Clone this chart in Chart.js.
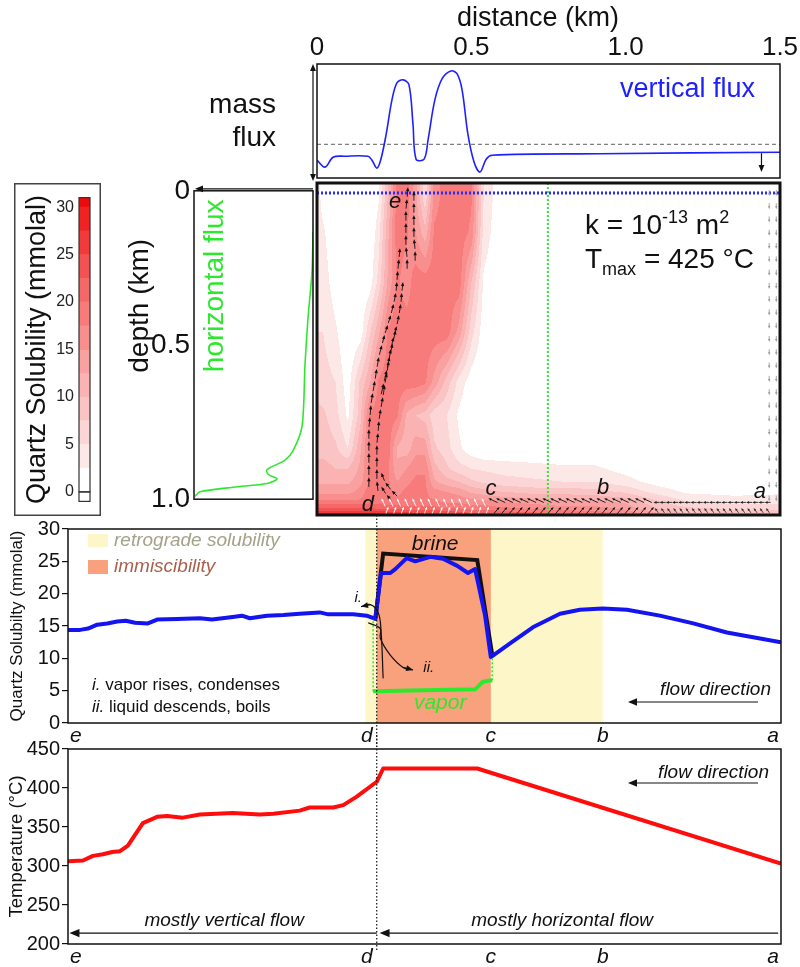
<!DOCTYPE html>
<html lang="en">
<head>
<meta charset="UTF-8">
<title>Quartz solubility along the flow path</title>
<script src="https://cdn.jsdelivr.net/npm/chart.js@4.4.1/dist/chart.umd.min.js"></script>
<style>
  body { margin: 0; background: #fff; }
  #page { position: relative; width: 800px; height: 967px; overflow: hidden; background: #fff; }
  #page canvas { position: absolute; }
</style>
</head>
<body>
<div id="page">
  <canvas id="massFlux" width="800" height="182" style="left:0;top:0"></canvas>
  <canvas id="colorbar" width="87" height="333" style="left:14px;top:183px"></canvas>
  <canvas id="horizFlux" width="207" height="350" style="left:110px;top:170px"></canvas>
  <canvas id="field" width="473" height="342" style="left:312px;top:178px"></canvas>
  <canvas id="solubility" width="800" height="232" style="left:0;top:515px"></canvas>
  <canvas id="temperature" width="800" height="232" style="left:0;top:735px"></canvas>
</div>

<script>
// ---------- top panel: vertical mass flux along the surface ----------
const distanceTicks = [0, 0.5, 1.0, 1.5];
const distanceKm   = [0, 0.026, 0.052, 0.09, 0.165, 0.178, 0.194, 0.207, 0.224, 0.243, 0.259, 0.279, 0.298, 0.311, 0.321, 0.347, 0.36, 0.382, 0.405, 0.434, 0.454, 0.47, 0.489, 0.509, 0.528, 0.548, 0.567, 0.917, 1.5];
const verticalFlux = [-1.6, -2.3, -1.3, -1.2, -1.2, -1.6, -2.4, -1.5, 1.0, 4.5, 6.2, 6.5, 6.0, 2.0, -1.5, -1.5, 0.5, 4.5, 6.6, 7.4, 7.1, 5.5, 1.0, -1.8, -2.8, -1.5, -1.1, -0.95, -0.8];
const fluxMarkerKm = 1.44;

// ---------- left panel: horizontal flux with depth ----------
const depthTicks = [0, 0.5, 1.0];
const fluxDepth      = [0.133, 0.262, 0.413, 0.563, 0.765, 0.843, 0.873, 0.904, 0.919, 0.934, 0.949, 0.961, 0.976, 0.991];
const horizontalFlux = [0, 0.1, 0.5, 0.8, 1.1, 2.0, 2.8, 4.6, 4.5, 3.6, 4.6, 8.0, 11.3, 11.8];

// ---------- colour scale (mmolal) ----------
const solubilityLevels = [0, 2.5, 5, 7.5, 10, 12.5, 15, 17.5, 20, 22.5, 25, 27.5, 30];
const levelColors = ['#ffffff', '#fde8e8', '#fcd6d6', '#fbc4c4', '#fab2b2', '#f9a0a0', '#f88e8e', '#f77b7b', '#f56868', '#f45252', '#f23a3a', '#f12222', '#ee0a0a'];
const colorbarTicks = [0, 5, 10, 15, 20, 25, 30];

// ---------- quartz solubility field, rows by depth (km), columns by distance (km) ----------
const fieldKm    = [0, 0.02, 0.06, 0.1, 0.14, 0.17, 0.2, 0.23, 0.26, 0.29, 0.32, 0.35, 0.38, 0.42, 0.46, 0.5, 0.54, 0.6, 0.7, 0.8, 0.9, 1.0, 1.1, 1.2, 1.35, 1.5];
const fieldDepth = [0, 0.03, 0.15, 0.3, 0.45, 0.6, 0.7, 0.8, 0.86, 0.9, 0.93, 0.96, 0.98, 1.0];
const fieldRows = [
  [4, 1, 0, 0, 0, 0, 2, 10, 19, 19, 14, 6, 16, 19, 19, 18, 5, 0, 0, 0, 0, 0, 0, 0, 0, 0],
  [4, 1, 0, 0, 0, 0, 2, 10, 19, 19, 13, 5, 16, 19, 19, 18, 5, 0, 0, 0, 0, 0, 0, 0, 0, 0],
  [4, 3, 0, 0, 0, 0, 4, 12, 19, 18, 15, 11, 18, 19, 19, 17, 4, 0, 0, 0, 0, 0, 0, 0, 0, 0],
  [5, 4, 1, 0, 0, 1, 6, 13, 18, 16, 19, 19, 19, 19, 19, 10, 2, 0, 0, 0, 0, 0, 0, 0, 0, 0],
  [5, 5, 3, 0, 1, 7, 12, 18, 19, 19, 19, 19, 19, 19, 14, 6, 1, 0, 0, 0, 0, 0, 0, 0, 0, 0],
  [7, 6, 5, 1, 8, 12, 18, 19, 19, 19, 19, 18, 14, 9, 4, 1, 0, 0, 0, 0, 0, 0, 0, 0, 0, 0],
  [8, 8, 6, 2, 9, 18, 19, 19, 18, 12, 10, 9, 6, 5, 2, 0, 0, 0, 0, 0, 0, 0, 0, 0, 0, 0],
  [9, 9, 8, 5, 12, 18, 19, 19, 12, 11, 14, 14, 8, 6, 3, 1, 0, 0, 0, 0, 0, 0, 0, 0, 0, 0],
  [11, 11, 10, 10, 13, 18, 19, 18, 13, 15, 17, 17, 11, 8, 6, 5, 4.5, 4, 3.5, 3, 3, 1.5, 0, 0, 0, 0],
  [12, 12, 12, 12, 14, 18, 19, 18, 15, 17, 18, 18, 13, 11, 10, 8, 7, 6, 5.5, 5, 5, 3.5, 1.5, 0.5, 0, 0],
  [14, 14, 14, 14, 16, 19, 19, 18, 17, 18, 18, 18, 16, 15, 14, 12, 11, 10, 9, 9, 8.5, 7, 4, 2, 1.5, 2],
  [18, 18, 18, 18, 18, 19, 19, 18, 18, 18, 18, 18, 18, 17, 17, 16, 16, 15, 14, 13, 13, 12, 8, 5, 4, 4],
  [23, 23, 23, 23, 23, 23, 22, 22, 22, 21, 21, 21, 21, 20, 20, 19, 19, 18, 17, 16, 16, 14, 10, 8, 7, 7],
  [29, 29, 29, 29, 29, 29, 29, 28, 28, 28, 27, 27, 27, 26, 25, 24, 24, 23, 22, 21, 20, 18, 14, 10, 9, 9]
];
const surfaceDepth = 0.03;   // blue dotted line where vertical flux is sampled
const profileKm = 0.748;     // green dotted line where horizontal flux is sampled

const pathLabels = ['e', 'd', 'c', 'b', 'a'];
const labelKm    = [0.253, 0.165, 0.564, 0.927, 1.435];
const labelDepth = [0.057, 0.97, 0.922, 0.919, 0.93];

// flow vectors: streamlines as [km, depth] nodes, plus rows of single vectors near the base
const streamlines = [
  [[0.292, 0.262], [0.292, 0.226], [0.288, 0.190], [0.288, 0.154], [0.288, 0.117], [0.288, 0.081], [0.292, 0.045], [0.295, 0.009]],
  [[0.318, 0.238], [0.318, 0.202], [0.314, 0.166], [0.314, 0.130], [0.314, 0.093], [0.314, 0.057], [0.314, 0.021]],
  [[0.168, 0.919], [0.168, 0.883], [0.168, 0.846], [0.168, 0.810], [0.168, 0.774], [0.168, 0.738], [0.172, 0.702], [0.175, 0.666], [0.181, 0.630], [0.188, 0.593], [0.194, 0.557], [0.201, 0.521], [0.211, 0.485], [0.220, 0.455], [0.230, 0.425], [0.240, 0.395], [0.249, 0.361], [0.256, 0.328], [0.259, 0.295], [0.262, 0.262], [0.266, 0.226], [0.269, 0.193]],
  [[0.198, 0.931], [0.194, 0.895], [0.194, 0.858], [0.194, 0.822], [0.194, 0.786], [0.198, 0.750], [0.201, 0.714], [0.207, 0.678], [0.214, 0.642], [0.220, 0.605], [0.227, 0.569], [0.233, 0.533], [0.240, 0.497], [0.249, 0.461], [0.259, 0.428], [0.266, 0.395], [0.272, 0.361], [0.275, 0.328], [0.279, 0.295]],
  [[0.207, 0.640], [0.217, 0.600], [0.227, 0.560], [0.236, 0.520], [0.246, 0.480], [0.256, 0.440]],
  [[0.262, 0.945], [0.240, 0.925], [0.220, 0.900], [0.207, 0.870]],
  [[0.243, 0.958], [0.224, 0.938], [0.207, 0.912]]
];
const baseWhiteKm = [0.215, 0.24, 0.265, 0.29, 0.315, 0.34, 0.365, 0.39, 0.415, 0.44, 0.465, 0.49, 0.515, 0.54];
const baseBlackKm = [0.57, 0.595, 0.62, 0.645, 0.67, 0.695, 0.72, 0.745, 0.77, 0.795, 0.82, 0.845, 0.87, 0.895, 0.92, 0.945, 0.97, 0.995, 1.02, 1.045, 1.07];
const baseRightKm = [1.1, 1.12, 1.14, 1.16, 1.18, 1.2, 1.22, 1.24, 1.26, 1.28, 1.3, 1.32, 1.34, 1.36, 1.38, 1.4, 1.42, 1.44, 1.46];
const baseRowDepth = [0.962, 0.986];
const edgeKm = [1.465, 1.488];
const edgeDepth = [0.03, 0.07, 0.11, 0.15, 0.19, 0.23, 0.27, 0.31, 0.35, 0.39, 0.43, 0.47, 0.51, 0.55, 0.59, 0.63, 0.67, 0.71, 0.75, 0.79, 0.83, 0.87, 0.91, 0.95];

// ---------- profiles along the flow path e -> a ----------
const pathTicks = [0, 43.3, 59.3, 75, 100];
const solPathPos = [0, 1.7, 2.8, 4.1, 5.5, 6.9, 8.1, 9.4, 11.2, 12.5, 15.3, 18.5, 20.2, 23.1, 24.4, 25.5, 27.9, 30.2, 32.5, 35.3, 36.5, 40.0, 41.9, 43.1, 43.9, 45.2, 45.9, 47.5, 48.7, 50.8, 52.6, 54.6, 56.1, 57.1, 58.5, 59.3, 62.0, 65.2, 69.0, 71.8, 75.0, 78.4, 83.0, 87.7, 92.4, 100];
const solubility = [14.4, 14.4, 14.6, 15.2, 15.4, 15.7, 15.8, 15.5, 15.4, 16.0, 16.1, 16.2, 16.0, 16.4, 16.6, 16.2, 16.6, 16.7, 16.9, 17.1, 16.8, 16.8, 16.6, 16.1, 23.2, 23.2, 23.8, 25.5, 25.0, 25.7, 25.4, 24.3, 23.2, 23.8, 16.6, 10.2, 12.3, 14.8, 16.9, 17.5, 17.7, 17.5, 16.6, 15.4, 14.0, 12.5];
const brinePos = [43.1, 44.2, 57.4, 59.5];
const brine    = [16.1, 26.2, 25.2, 10.5];
const vaporPos = [42.8, 57.1, 58.2, 59.5];
const vapor    = [4.9, 5.2, 6.4, 6.6];
const vaporTiePos  = [42.8, 59.5];
const vaporTieLow  = [4.9, 6.6];
const vaporTieHigh = [16.1, 10.2];
const retrogradeSpan = [41.7, 75];
const immiscibleSpan = [43.3, 59.3];
const condensePos = [44.2, 43.9, 43.5, 42.4, 41.1];
const condenseVal = [6.9, 14.3, 17.1, 18.3, 18.0];
const boilPos = [42.1, 43.8, 43.8, 45.2, 47.0, 48.4];
const boilVal = [15.5, 14.6, 13.1, 10.5, 8.6, 8.2];

const tempPos = [0, 2.1, 3.5, 4.9, 6.2, 7.3, 8.4, 10.5, 12.5, 13.9, 16.1, 18.5, 23.1, 26.9, 28.8, 32.5, 33.9, 37.2, 38.6, 40.5, 43.3, 44.2, 57.4, 100];
const temperature = [306, 307, 313, 315, 318, 319, 326, 355, 363, 364, 362, 366, 368, 366, 367, 371, 375, 375, 378, 389, 408, 425, 425, 303];
const verticalFlowSpan = [43.3, 0.2];
const horizontalFlowSpan = [99.6, 43.7];
const flowSpanLevel = 214;

// ---------- drawing helpers ----------
const FONT = '"Liberation Sans", Arial, Helvetica, sans-serif';
Chart.defaults.font.family = FONT;
Chart.defaults.color = '#111';
Chart.defaults.animation = false;
Chart.defaults.responsive = false;
Chart.defaults.plugins.legend.display = false;
Chart.defaults.plugins.tooltip.enabled = false;
Chart.defaults.elements.point.radius = 0;

const pts = (xs, ys) => xs.map((x, i) => ({ x: x, y: ys[i] }));
const fnt = (size, style) => (style ? style + ' ' : '') + size + 'px ' + FONT;

function text(ctx, str, x, y, size, opt) {
  opt = opt || {};
  ctx.save();
  ctx.font = fnt(size, opt.style);
  ctx.fillStyle = opt.color || '#111';
  ctx.textAlign = opt.align || 'left';
  ctx.textBaseline = opt.baseline || 'middle';
  if (opt.rotate) {
    ctx.translate(x, y);
    ctx.rotate(opt.rotate);
    ctx.fillText(str, 0, 0);
  } else {
    ctx.fillText(str, x, y);
  }
  ctx.restore();
}

// runs of differently styled text on one baseline: [str, size, dy, style]
function richText(ctx, x, y, parts, color) {
  ctx.save();
  ctx.fillStyle = color || '#111';
  ctx.textBaseline = 'alphabetic';
  let cx = x;
  parts.forEach(p => {
    ctx.font = fnt(p[1], p[3]);
    ctx.fillText(p[0], cx, y + p[2]);
    cx += ctx.measureText(p[0]).width;
  });
  ctx.restore();
}

function arrow(ctx, x1, y1, x2, y2, head, color, width) {
  const ang = Math.atan2(y2 - y1, x2 - x1);
  ctx.save();
  ctx.strokeStyle = ctx.fillStyle = color || '#111';
  ctx.lineWidth = width || 1;
  ctx.beginPath();
  ctx.moveTo(x1, y1);
  ctx.lineTo(x2 - Math.cos(ang) * head * 0.7, y2 - Math.sin(ang) * head * 0.7);
  ctx.stroke();
  ctx.translate(x2, y2);
  ctx.rotate(ang);
  ctx.beginPath();
  ctx.moveTo(0, 0);
  ctx.lineTo(-head, -head * 0.42);
  ctx.lineTo(-head, head * 0.42);
  ctx.closePath();
  ctx.fill();
  ctx.restore();
}

function box(ctx, a, width) {
  ctx.save();
  ctx.strokeStyle = '#111';
  ctx.lineWidth = width;
  ctx.strokeRect(a.left, a.top, a.right - a.left, a.bottom - a.top);
  ctx.restore();
}

function levelIndex(v) {
  let k = 0;
  for (let i = 0; i < solubilityLevels.length; i++) if (v >= solubilityLevels[i]) k = i;
  return v < solubilityLevels[1] ? 0 : k;
}

function locate(nodes, v) {
  let i = 0;
  while (i < nodes.length - 2 && v > nodes[i + 1]) i++;
  const t = Math.min(1, Math.max(0, (v - nodes[i]) / (nodes[i + 1] - nodes[i])));
  return [i, t];
}

function sampleField(km, depth) {
  const [i, tx] = locate(fieldKm, km);
  const [j, ty] = locate(fieldDepth, depth);
  const r0 = fieldRows[j], r1 = fieldRows[j + 1];
  const upper = r0[i] + (r0[i + 1] - r0[i]) * tx;
  const lower = r1[i] + (r1[i + 1] - r1[i]) * tx;
  return upper + (lower - upper) * ty;
}

const hexRgb = h => [1, 3, 5].map(k => parseInt(h.substr(k, 2), 16));

// labels e..a under the path axes
function pathAxisLabels(ctx, a, x, y) {
  const aligns = ['left', 'right', 'center', 'center', 'right'];
  const shift = [2, -4, 0, 0, -2];
  pathLabels.forEach((lab, i) => {
    text(ctx, lab, x.getPixelForValue(pathTicks[i]) + shift[i], y, 21, { style: 'italic', align: aligns[i] });
  });
}

function dottedD(ctx, x, y1, y2) {
  ctx.save();
  ctx.strokeStyle = '#111';
  ctx.lineWidth = 1.2;
  ctx.setLineDash([1.5, 2]);
  ctx.beginPath();
  ctx.moveTo(x, y1);
  ctx.lineTo(x, y2);
  ctx.stroke();
  ctx.restore();
}

// ---------- top panel ----------
new Chart(document.getElementById('massFlux'), {
  type: 'line',
  data: {
    datasets: [
      { data: pts(distanceKm, verticalFlux), borderColor: '#2020ff', borderWidth: 1.6, tension: 0.35 },
      { data: pts([0, 1.5], [0, 0]), borderColor: '#808080', borderWidth: 1.2, borderDash: [4, 3] }
    ]
  },
  options: {
    layout: { padding: { left: 317, right: 20, top: 0, bottom: 4 } },
    scales: {
      x: {
        type: 'linear', position: 'top', min: 0, max: 1.5,
        afterBuildTicks: s => { s.ticks = distanceTicks.map(v => ({ value: v })); },
        ticks: { font: { size: 26 }, color: '#111', padding: 1, maxRotation: 0, callback: v => v === 0 ? '0' : v.toFixed(1) },
        grid: { display: false, drawTicks: false },
        border: { display: false },
        afterFit: s => { s.height = 64; }
      },
      y: { type: 'linear', display: false, min: -3.4, max: 8.1 }
    }
  },
  plugins: [{
    id: 'fluxDecor',
    afterDraw(chart) {
      const { ctx, chartArea: a, scales: { x, y } } = chart;
      box(ctx, a, 1.5);
      text(ctx, 'distance (km)', 538, 19, 27, { align: 'center' });
      const ax = a.left - 4, mid = (a.top + a.bottom) / 2;
      arrow(ctx, ax, mid, ax, a.top, 7, '#111', 1.2);
      arrow(ctx, ax, mid, ax, a.bottom + 3, 7, '#111', 1.2);
      const mx = x.getPixelForValue(fluxMarkerKm);
      arrow(ctx, mx, y.getPixelForValue(-0.9), mx, y.getPixelForValue(-2.8), 7, '#111', 1.2);
      text(ctx, 'vertical flux', a.right - 25, a.top + 26, 27, { color: '#2020ff', align: 'right' });
      text(ctx, 'mass', a.left - 41, 105, 28, { align: 'right' });
      text(ctx, 'flux', a.left - 41, 138, 28, { align: 'right' });
    }
  }]
});

// ---------- colour bar ----------
const barBounds = [-1].concat(solubilityLevels, [31]);
const barColors = ['#ffffff'].concat(levelColors);
new Chart(document.getElementById('colorbar'), {
  type: 'bar',
  data: {
    labels: ['mmolal'],
    datasets: barColors.map((c, i) => ({
      data: [[barBounds[i], barBounds[i + 1]]],
      backgroundColor: c, grouped: false, barPercentage: 1, categoryPercentage: 1, borderWidth: 0
    }))
  },
  options: {
    layout: { padding: { left: 0, right: 11, top: 12, bottom: 10 } },
    scales: {
      x: { display: false },
      y: {
        min: -1, max: 31, z: 1,
        afterBuildTicks: s => { s.ticks = colorbarTicks.map(v => ({ value: v })); },
        ticks: { font: { size: 16 }, color: '#222', padding: 5 },
        grid: { color: '#333', lineWidth: 1, drawTicks: false },
        border: { display: false },
        title: { display: true, text: 'Quartz Solubility (mmolal)', font: { size: 27 }, color: '#111', padding: { top: 7, bottom: 0 } },
        afterFit: s => { s.width = 65; }
      }
    }
  },
  plugins: [{
    id: 'barOutline',
    afterDraw(chart) {
      const { ctx, chartArea: a, scales: { y } } = chart;
      ctx.save();
      ctx.strokeStyle = '#333';
      ctx.lineWidth = 1.2;
      ctx.strokeRect(a.left, y.getPixelForValue(31), a.right - a.left, y.getPixelForValue(0) - y.getPixelForValue(31));
      ctx.strokeRect(a.left, y.getPixelForValue(0), a.right - a.left, y.getPixelForValue(-1) - y.getPixelForValue(0));
      ctx.lineWidth = 1.5;
      ctx.strokeStyle = '#444';
      ctx.strokeRect(0.75, 0.75, chart.width - 1.5, chart.height - 1.5);
      ctx.restore();
    }
  }]
});

// ---------- horizontal flux ----------
new Chart(document.getElementById('horizFlux'), {
  type: 'line',
  data: { datasets: [{ data: pts(horizontalFlux, fluxDepth), borderColor: '#2ee82e', borderWidth: 1.6, tension: 0.3 }] },
  options: {
    layout: { padding: { left: 0, right: 4, top: 13, bottom: 5 } },
    scales: {
      x: { type: 'linear', display: false, min: 0, max: 11.9, reverse: true },
      y: {
        type: 'linear', min: 0, max: 1, reverse: true,
        afterBuildTicks: s => { s.ticks = depthTicks.map(v => ({ value: v })); },
        ticks: { font: { size: 28 }, color: '#111', padding: 4, callback: v => v === 0 ? '0' : v.toFixed(1) },
        grid: { display: false, drawTicks: false },
        border: { display: false },
        afterFit: s => { s.width = 84; }
      }
    }
  },
  plugins: [{
    id: 'hfluxDecor',
    afterDraw(chart) {
      const { ctx, chartArea: a } = chart;
      box(ctx, a, 1.5);
      arrow(ctx, a.right, a.top - 2, a.left + 1, a.top - 2, 8, '#111', 1.2);
      text(ctx, 'depth (km)', a.left - 54, a.top + 115, 28, { align: 'center', rotate: -Math.PI / 2 });
      text(ctx, 'horizontal flux', a.left + 21, a.top + 95, 28, { color: '#2ee82e', align: 'center', rotate: -Math.PI / 2 });
    }
  }]
});

// ---------- solubility field ----------
const fieldPlugin = {
  id: 'solubilityField',
  beforeDatasetsDraw(chart) {
    const { ctx, chartArea: a, scales: { x, y } } = chart;
    const w = Math.round(a.right - a.left), h = Math.round(a.bottom - a.top);
    const off = document.createElement('canvas');
    off.width = w;
    off.height = h;
    const octx = off.getContext('2d');
    const img = octx.createImageData(w, h);
    const rgb = levelColors.map(hexRgb);
    const kms = [];
    for (let i = 0; i < w; i++) kms.push(x.getValueForPixel(a.left + i + 0.5));
    for (let j = 0; j < h; j++) {
      const depth = y.getValueForPixel(a.top + j + 0.5);
      for (let i = 0; i < w; i++) {
        const c = rgb[levelIndex(sampleField(kms[i], depth))];
        const k = (j * w + i) * 4;
        img.data[k] = c[0];
        img.data[k + 1] = c[1];
        img.data[k + 2] = c[2];
        img.data[k + 3] = 255;
      }
    }
    octx.putImageData(img, 0, 0);
    ctx.drawImage(off, a.left, a.top);
  },
  afterDatasetsDraw(chart) {
    const { ctx, chartArea: a, scales: { x, y } } = chart;
    const px = v => x.getPixelForValue(v), py = v => y.getPixelForValue(v);

    streamlines.forEach(line => {
      for (let i = 0; i < line.length - 1; i++) {
        const x1 = px(line[i][0]), y1 = py(line[i][1]);
        const x2 = px(line[i + 1][0]), y2 = py(line[i + 1][1]);
        arrow(ctx, x1 + (x2 - x1) * 0.1, y1 + (y2 - y1) * 0.1, x1 + (x2 - x1) * 0.9, y1 + (y2 - y1) * 0.9, 4, '#111', 0.9);
      }
    });

    const glyph = (km, depth, deg, len, color) => {
      const r = deg * Math.PI / 180, cx = px(km), cy = py(depth);
      const dx = Math.cos(r) * len / 2, dy = Math.sin(r) * len / 2;
      arrow(ctx, cx - dx, cy - dy, cx + dx, cy + dy, 3, color, 0.9);
    };
    baseWhiteKm.forEach(k => { glyph(k, baseRowDepth[0], -115, 9, '#ffffff'); glyph(k + 0.012, baseRowDepth[1], -70, 8, '#ffffff'); });
    baseBlackKm.forEach(k => { glyph(k, baseRowDepth[0] - 0.006, -155, 10, '#111'); glyph(k + 0.012, baseRowDepth[1], -50, 9, '#111'); });
    baseRightKm.forEach(k => { glyph(k, baseRowDepth[0], 180, 6, '#222'); glyph(k, baseRowDepth[1], -125, 6, '#333'); });
    edgeKm.forEach(k => edgeDepth.forEach(d => glyph(k, d, 90, 6, '#9a9a9a')));

    pathLabels.forEach((lab, i) => text(ctx, lab, px(labelKm[i]), py(labelDepth[i]), 22, { style: 'italic', align: 'center' }));

    richText(ctx, a.left + 268, a.top + 51, [['k = 10', 28, 0], ['-13', 18, -11], [' m', 28, 0], ['2', 18, -11]]);
    richText(ctx, a.left + 268, a.top + 85, [['T', 28, 0], ['max', 18, 7], [' = 425 °C', 28, 0]]);

    box(ctx, a, 3);
  }
};

new Chart(document.getElementById('field'), {
  type: 'line',
  data: {
    datasets: [
      { data: pts([0, 1.5], [surfaceDepth, surfaceDepth]), borderColor: '#2a2aff', borderWidth: 3, borderDash: [2, 2] },
      { data: pts([profileKm, profileKm], [0, 1]), borderColor: '#2ee82e', borderWidth: 2, borderDash: [2, 2] }
    ]
  },
  options: {
    layout: { padding: 5 },
    scales: {
      x: { type: 'linear', display: false, min: 0, max: 1.5 },
      y: { type: 'linear', display: false, min: 0, max: 1, reverse: true }
    }
  },
  plugins: [fieldPlugin]
});

// ---------- quartz solubility along the path ----------
new Chart(document.getElementById('solubility'), {
  type: 'line',
  data: {
    datasets: [
      { data: pts(condensePos, condenseVal), borderColor: '#111', borderWidth: 1.2, tension: 0.4 },
      { data: pts(boilPos, boilVal), borderColor: '#111', borderWidth: 1.2, tension: 0.4 },
      { data: pts([vaporTiePos[0], vaporTiePos[0]], [vaporTieLow[0], vaporTieHigh[0]]), borderColor: '#2ee82e', borderWidth: 1.5, borderDash: [2, 2] },
      { data: pts([vaporTiePos[1], vaporTiePos[1]], [vaporTieLow[1], vaporTieHigh[1]]), borderColor: '#2ee82e', borderWidth: 1.5, borderDash: [2, 2] },
      { data: pts(vaporPos, vapor), borderColor: '#2ee82e', borderWidth: 4 },
      { data: pts(solPathPos, solubility), borderColor: '#1414f0', borderWidth: 4, borderJoinStyle: 'round' },
      { data: pts(brinePos, brine), borderColor: '#111', borderWidth: 4 }
    ]
  },
  options: {
    layout: { padding: { left: 0, right: 19, top: 13, bottom: 24 } },
    scales: {
      x: { type: 'linear', display: false, min: 0, max: 100 },
      y: {
        min: 0, max: 30,
        ticks: { stepSize: 5, font: { size: 20 }, color: '#111', padding: 2 },
        grid: { drawOnChartArea: false, tickLength: 6, color: '#111', lineWidth: 1.2 },
        border: { display: false },
        title: { display: true, text: 'Quartz Solubilty (mmolal)', font: { size: 17 }, color: '#111', padding: { top: 7, bottom: 0 } },
        afterFit: s => { s.width = 68; }
      }
    }
  },
  plugins: [{
    id: 'solubilityDecor',
    beforeDatasetsDraw(chart) {
      const { ctx, chartArea: a, scales: { x } } = chart;
      ctx.save();
      ctx.fillStyle = '#fdf6c8';
      ctx.fillRect(x.getPixelForValue(retrogradeSpan[0]), a.top, x.getPixelForValue(retrogradeSpan[1]) - x.getPixelForValue(retrogradeSpan[0]), a.bottom - a.top);
      ctx.fillStyle = '#f9a07c';
      ctx.fillRect(x.getPixelForValue(immiscibleSpan[0]), a.top, x.getPixelForValue(immiscibleSpan[1]) - x.getPixelForValue(immiscibleSpan[0]), a.bottom - a.top);
      ctx.restore();
    },
    afterDraw(chart) {
      const { ctx, chartArea: a, scales: { x, y } } = chart;
      const px = v => x.getPixelForValue(v), py = v => y.getPixelForValue(v);
      box(ctx, a, 1.5);
      dottedD(ctx, px(pathTicks[1]), 0, chart.height);

      // legend
      ctx.save();
      ctx.fillStyle = '#fdf6c8';
      ctx.fillRect(a.left + 20, a.top + 5, 20, 13);
      ctx.fillStyle = '#f9a07c';
      ctx.fillRect(a.left + 20, a.top + 31, 20, 14);
      ctx.restore();
      text(ctx, 'retrograde solubility', a.left + 46, a.top + 12, 19, { style: 'italic', color: '#a3a28a' });
      text(ctx, 'immiscibility', a.left + 46, a.top + 38, 19, { style: 'italic', color: '#a8604c' });

      // arrow heads on the condensing / boiling sketches
      const head = (xs, ys, n) => arrow(ctx, px(xs[n - 2]), py(ys[n - 2]), px(xs[n - 1]), py(ys[n - 1]), 7, '#111', 1.2);
      head(condensePos, condenseVal, condensePos.length);
      head(boilPos, boilVal, boilPos.length);
      text(ctx, 'i.', px(40.7), py(19.4), 15, { style: 'italic', align: 'center' });
      text(ctx, 'ii.', px(50.6), py(8.6), 15, { style: 'italic', align: 'center' });
      text(ctx, 'brine', px(51.5), py(27.7), 21, { style: 'italic', align: 'center' });
      text(ctx, 'vapor', px(52.2), py(3.1), 21, { style: 'italic', align: 'center', color: '#2ee82e' });

      richText(ctx, a.left + 24, a.top + 161, [['i.', 17, 0, 'italic'], [' vapor rises, condenses', 17, 0]]);
      richText(ctx, a.left + 24, a.top + 183, [['ii.', 17, 0, 'italic'], [' liquid descends, boils', 17, 0]]);

      text(ctx, 'flow direction', a.right - 10, a.top + 161, 19, { style: 'italic', align: 'right' });
      arrow(ctx, a.right - 23, a.top + 173, a.right - 153, a.top + 173, 9, '#111', 1.2);

      pathAxisLabels(ctx, a, x, a.bottom + 13);
    }
  }]
});

// ---------- temperature along the path ----------
new Chart(document.getElementById('temperature'), {
  type: 'line',
  data: { datasets: [{ data: pts(tempPos, temperature), borderColor: '#ff0c0c', borderWidth: 4, borderJoinStyle: 'round' }] },
  options: {
    layout: { padding: { left: 0, right: 19, top: 14, bottom: 23 } },
    scales: {
      x: { type: 'linear', display: false, min: 0, max: 100 },
      y: {
        min: 200, max: 450,
        ticks: { stepSize: 50, font: { size: 20 }, color: '#111', padding: 2 },
        grid: { drawOnChartArea: false, tickLength: 6, color: '#111', lineWidth: 1.2 },
        border: { display: false },
        title: { display: true, text: 'Temperature (°C)', font: { size: 18.5 }, color: '#111', padding: { top: 6, bottom: 0 } },
        afterFit: s => { s.width = 68; }
      }
    }
  },
  plugins: [{
    id: 'temperatureDecor',
    afterDraw(chart) {
      const { ctx, chartArea: a, scales: { x, y } } = chart;
      const px = v => x.getPixelForValue(v), py = v => y.getPixelForValue(v);
      box(ctx, a, 1.5);
      dottedD(ctx, px(pathTicks[1]), 0, a.bottom + 8);

      text(ctx, 'flow direction', a.right - 12, a.top + 24, 19, { style: 'italic', align: 'right' });
      arrow(ctx, a.right - 23, a.top + 34, a.right - 153, a.top + 34, 9, '#111', 1.2);

      const ly = py(flowSpanLevel);
      arrow(ctx, px(verticalFlowSpan[0]), ly, px(verticalFlowSpan[1]), ly, 10, '#111', 1.2);
      arrow(ctx, px(horizontalFlowSpan[0]), ly, px(horizontalFlowSpan[1]), ly, 10, '#111', 1.2);
      text(ctx, 'mostly vertical flow', px(21.9), ly - 12, 19, { style: 'italic', align: 'center' });
      text(ctx, 'mostly horizontal flow', px(69.3), ly - 12, 19, { style: 'italic', align: 'center' });

      pathAxisLabels(ctx, a, x, a.bottom + 13);
    }
  }]
});
</script>
</body>
</html>
